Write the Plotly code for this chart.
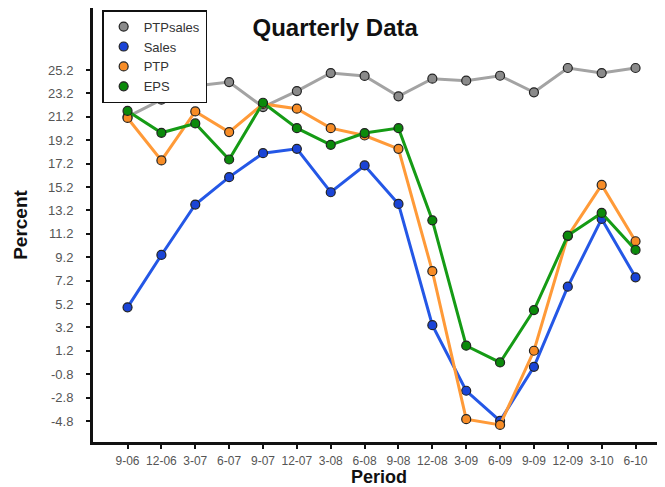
import plotly.graph_objects as go

periods = ["9-06", "12-06", "3-07", "6-07", "9-07", "12-07", "3-08", "6-08",
           "9-08", "12-08", "3-09", "6-09", "9-09", "12-09", "3-10", "6-10"]
ptpsales = [21.2, 22.66, 23.83, 24.17, 22.03, 23.4, 24.94, 24.69,
            22.95, 24.46, 24.29, 24.71, 23.29, 25.37, 24.94, 25.37]
sales = [4.91, 9.39, 13.7, 16.04, 18.09, 18.46, 14.75, 17.04,
         13.75, 3.39, -2.22, -4.79, -0.17, 6.68, 12.47, 7.48]
ptp = [21.1, 17.47, 21.66, 19.89, 22.3, 21.89, 20.23, 19.6,
       18.46, 8.0, -4.65, -5.14, 1.2, 11.0, 15.38, 10.56]
eps = [21.7, 19.83, 20.63, 17.55, 22.4, 20.23, 18.8, 19.81,
       20.23, 12.35, 1.63, 0.2, 4.68, 11.05, 12.98, 9.82]
ytick_vals = [-4.8, -2.8, -0.8, 1.2, 3.2, 5.2, 7.2, 9.2, 11.2, 13.2,
              15.2, 17.2, 19.2, 21.2, 23.2, 25.2]

series = [
    ("PTPsales", ptpsales, "#a3a3a3", "#8a8a8a"),
    ("Sales", sales, "#2457e6", "#1a44d6"),
    ("PTP", ptp, "#ff9a38", "#f78c26"),
    ("EPS", eps, "#159b15", "#0b8a0b"),
]

x_idx = list(range(len(periods)))
fig = go.Figure()
for name, vals, lc, mc in series:
    fig.add_trace(go.Scatter(
        x=x_idx, y=vals, name=name, mode="lines+markers", showlegend=False,
        line=dict(color=lc, width=3),
        marker=dict(color=mc, size=9, line=dict(color="#222", width=1.2)),
    ))
# legend-only marker entries
for name, vals, lc, mc in series:
    fig.add_trace(go.Scatter(
        x=[None], y=[None], name=name, mode="markers", showlegend=True,
        marker=dict(color=mc, size=9, line=dict(color="#222", width=1.2)),
    ))

# The page body has an 8px margin, so the figure is 8px smaller in each direction
fig.update_layout(
    width=657, height=479,
    margin=dict(l=85, r=0, t=0, b=45),
    paper_bgcolor="white", plot_bgcolor="white",
    font=dict(family="Liberation Sans, Arial, sans-serif", color="#555"),
    title=dict(text="<b>Quarterly Data</b>", x=0.498, xanchor="center",
               y=0.96, yanchor="middle",
               font=dict(size=24, color="#111")),
    showlegend=True,
    legend=dict(x=0.016, y=0.995, xanchor="left", yanchor="top",
                bordercolor="#111", borderwidth=1.5, bgcolor="white",
                font=dict(size=13, color="#333"),
                tracegroupgap=0, itemwidth=30),
    xaxis=dict(
        range=[-1.02, 15.87], tickmode="array", tickvals=x_idx, ticktext=periods,
        showgrid=False, zeroline=False, showline=True, linecolor="#111", linewidth=3,
        ticks="outside", ticklen=4, tickwidth=1.5, tickcolor="#111",
        ticklabelstandoff=2,
        tickfont=dict(size=12, color="#555"),
        title=dict(text="<b>Period</b>", font=dict(size=18, color="#111"), standoff=3),
    ),
    yaxis=dict(
        range=[-6.6, 30.5], tickmode="array", tickvals=ytick_vals,
        ticktext=[f"{v:.1f}" for v in ytick_vals],
        showgrid=False, zeroline=False, showline=True, linecolor="#111", linewidth=3,
        ticks="outside", ticklen=4, tickwidth=1.5, tickcolor="#111",
        ticklabelstandoff=10,
        tickfont=dict(size=13, color="#555"),
        title=dict(text="<b>Percent</b>", font=dict(size=19, color="#111"), standoff=16),
    ),
)

fig.write_html("out.html")
